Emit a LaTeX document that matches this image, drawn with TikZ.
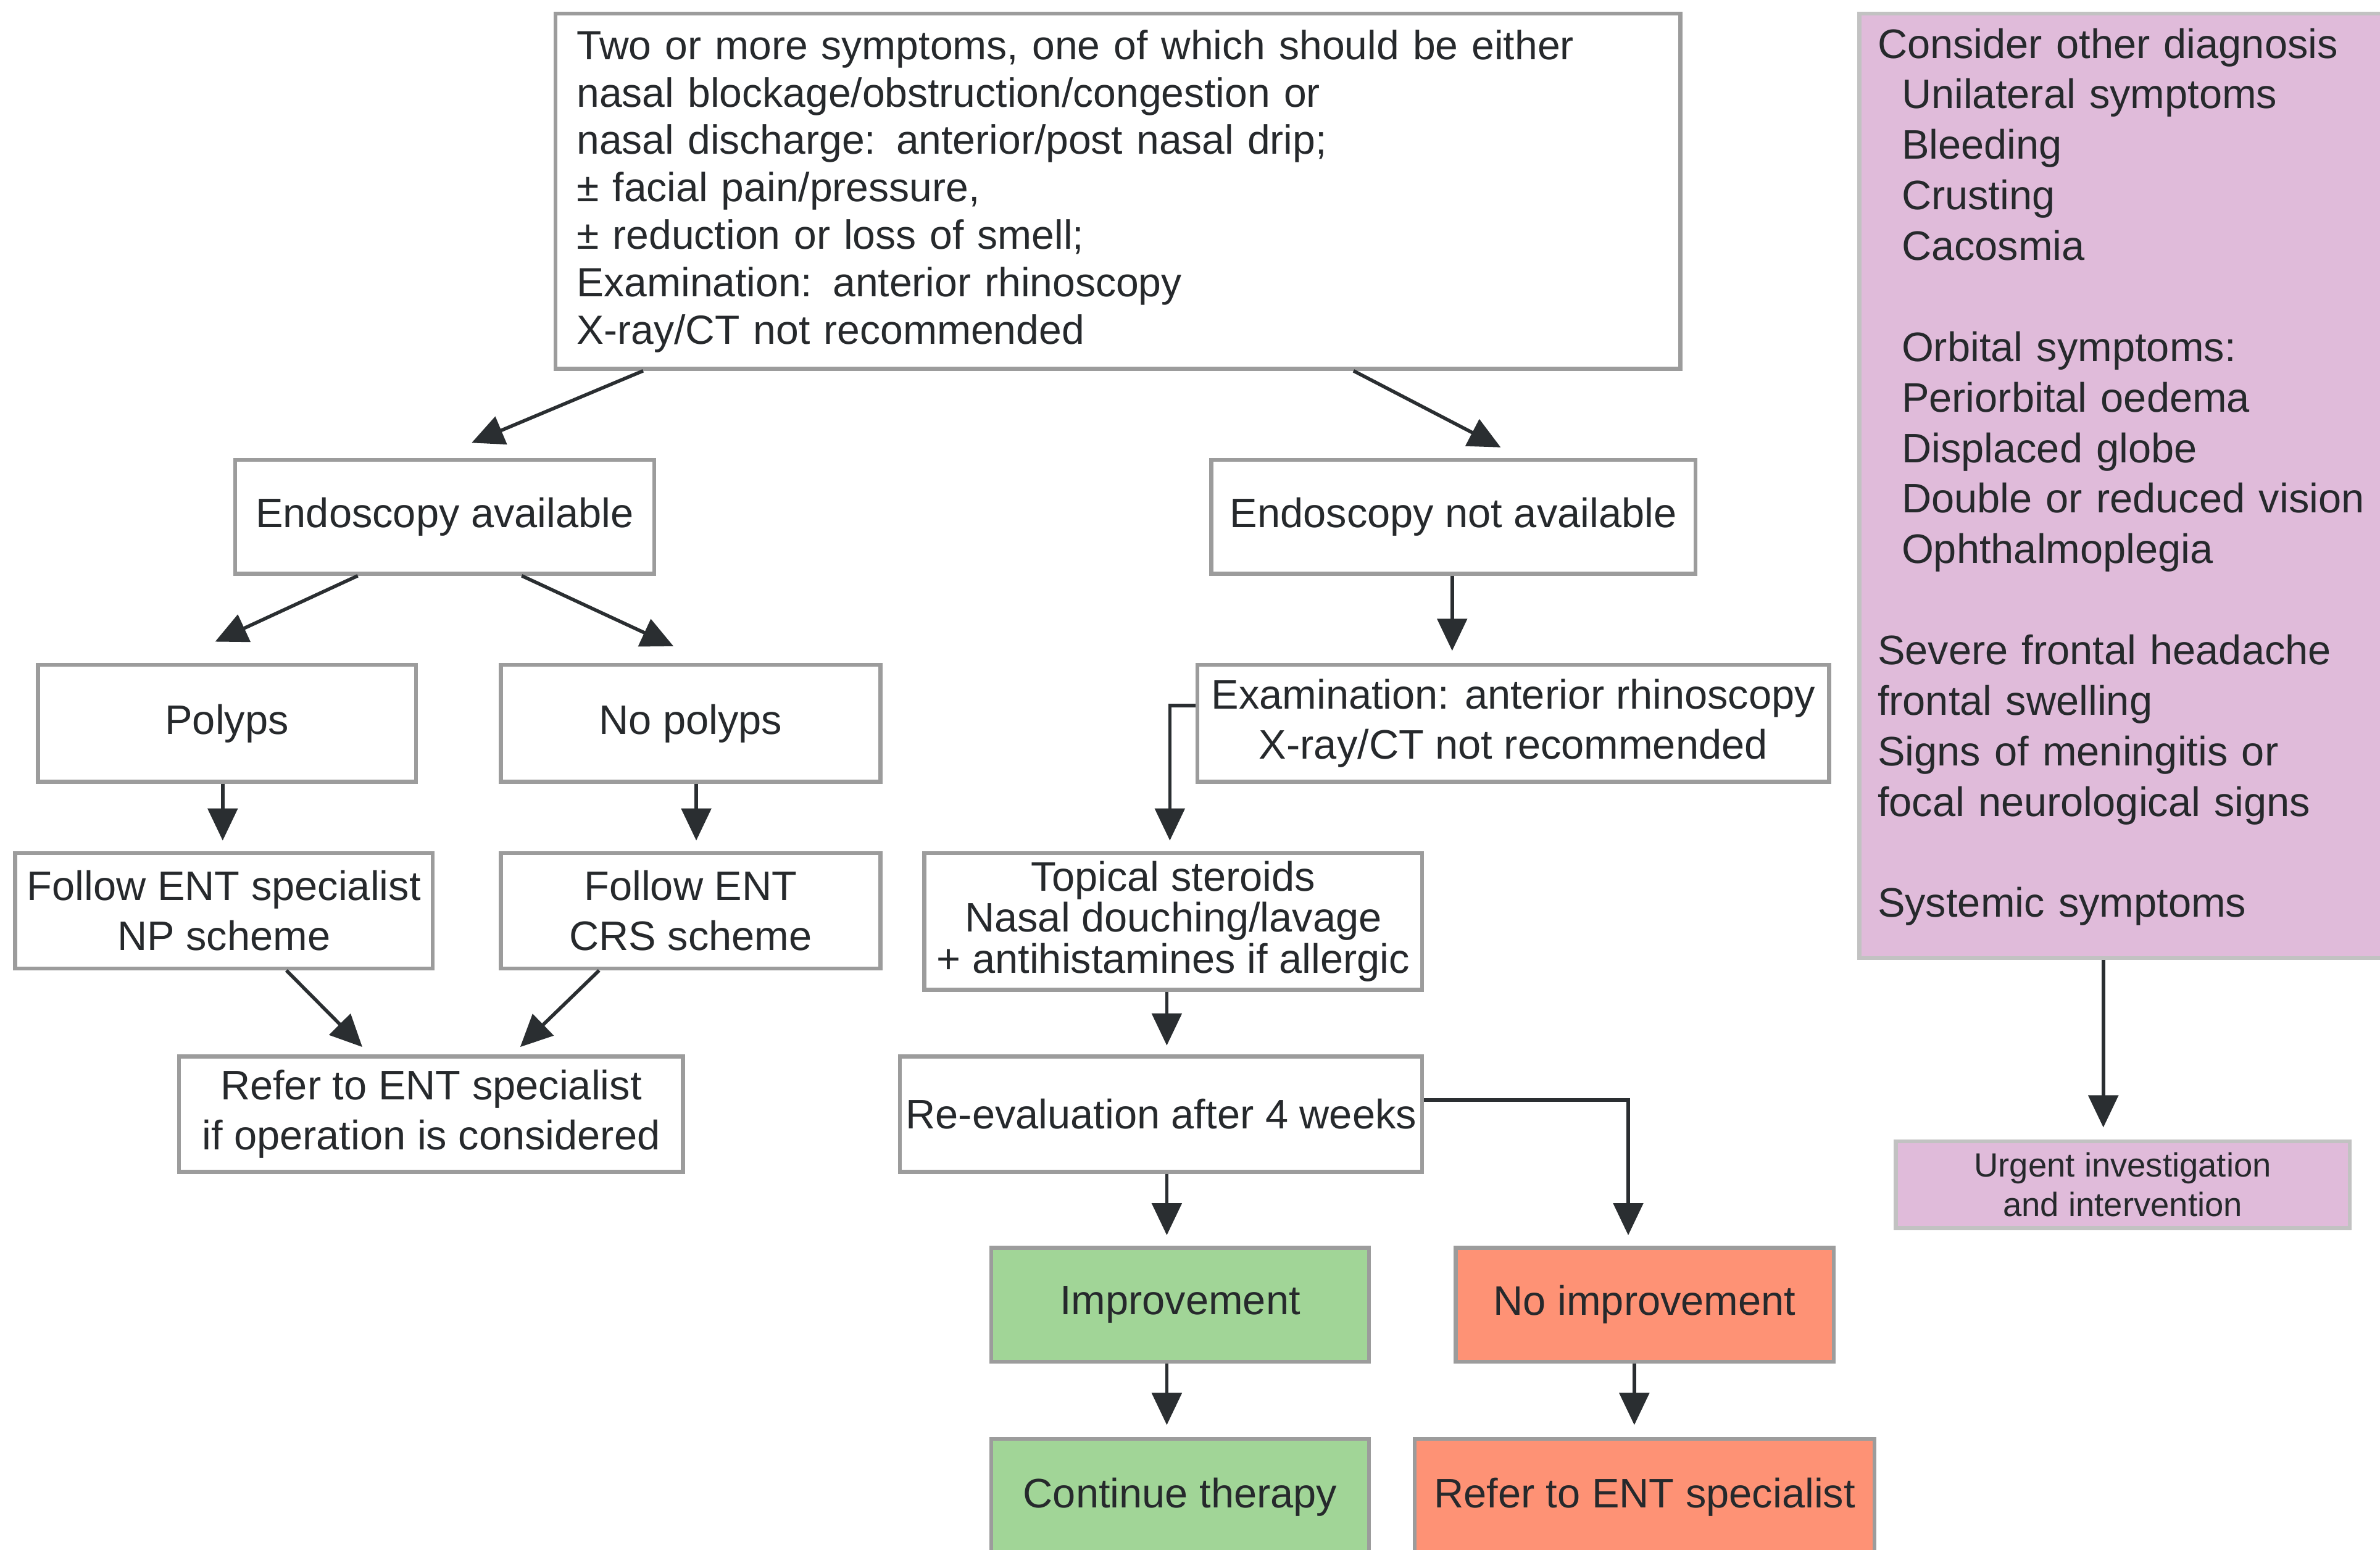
\documentclass[tikz,border=0pt]{standalone}
\usepackage{fontspec}
\setmainfont{Liberation Sans}
\usetikzlibrary{arrows.meta,calc}
\definecolor{txt}{HTML}{26292C}
\definecolor{bord}{HTML}{9C9C9C}
\definecolor{pinkbord}{HTML}{C2C2C2}
\definecolor{grn}{HTML}{A1D597}
\definecolor{org}{HTML}{FE9275}
\definecolor{pnk}{HTML}{E0BBDA}
\definecolor{arr}{HTML}{2A2E31}
\begin{document}
\begin{tikzpicture}[x=0.024592cm, y=-0.024592cm,
  place/.style n args={4}{at={({(#1+#3)/2},{(#2+#4)/2})},
    minimum width={(#3-#1)*0.024592cm}, minimum height={(#4-#2)*0.024592cm}},
  box/.style={draw=bord, line width=1.8pt, fill=white, text=txt, inner sep=0pt,
    align=center, font=\fontsize{19}{23}\selectfont},
  greenbox/.style={box, fill=grn},
  orangebox/.style={box, fill=org},
  pinkbox/.style={box, draw=pinkbord, fill=pnk},
  ar/.style={draw=arr, line width=1.6pt, -{Triangle[width=0.48cm,length=0.52cm]}}
]
\useasboundingbox (0,0) rectangle (1568,1021);

\node[box, place={366}{9}{1107}{243}, align=left, text width={(741-28)*0.024592cm},
  font=\fontsize{18.8}{21.9}\selectfont] (top) {Two or more symptoms, one of which should be either\\
nasal blockage/obstruction/congestion or\\
nasal discharge: anterior/post nasal drip;\\
± facial pain/pressure,\\
± reduction or loss of smell;\\
Examination: anterior rhinoscopy\\
X-ray/CT not recommended};

\node[box, place={155}{303}{431}{378}] (endo) {Endoscopy available};
\node[box, place={798}{303}{1117}{378}] (endna) {Endoscopy not available};
\node[box, place={25}{438}{274}{515}] (polyps) {Polyps};
\node[box, place={330}{438}{580}{515}] (nopolyps) {No polyps};
\node[box, place={10}{562}{285}{638}] (np) {Follow ENT specialist\\NP scheme};
\node[box, place={330}{562}{580}{638}] (crs) {Follow ENT\\CRS scheme};
\node[box, place={118}{696}{450}{772}] (refer) {Refer to ENT specialist\\if operation is considered};
\node[box, place={789}{438}{1205}{515}] (exam) {Examination: anterior rhinoscopy\\X-ray/CT not recommended};
\node[box, place={609}{562}{937}{652}, font=\fontsize{19}{18.8}\selectfont] (topical)
  {Topical steroids\\Nasal douching/lavage\\+ antihistamines if allergic};
\node[box, place={593}{696}{937}{772}] (reeval) {Re-evaluation after 4 weeks};
\node[greenbox, place={653}{822}{902}{897}] (impr) {Improvement};
\node[orangebox, place={959}{822}{1208}{897}] (noimpr) {No improvement};
\node[greenbox, place={653}{948}{902}{1035}] (cont) {\raisebox{0.4cm}{Continue therapy}};
\node[orangebox, place={932}{948}{1235}{1035}] (refent) {\raisebox{0.4cm}{Refer to ENT specialist}};

\node[pinkbox, place={1225}{9}{1580}{631}, align=left, text width={(355-24)*0.024592cm},
  font=\fontsize{19}{23.3}\selectfont] (pink) {Consider other diagnosis\\
\hspace*{0.39cm}Unilateral symptoms\\
\hspace*{0.39cm}Bleeding\\
\hspace*{0.39cm}Crusting\\
\hspace*{0.39cm}Cacosmia\\[23.3pt]
\hspace*{0.39cm}Orbital symptoms:\\
\hspace*{0.39cm}Periorbital oedema\\
\hspace*{0.39cm}Displaced globe\\
\hspace*{0.39cm}Double or reduced vision\\
\hspace*{0.39cm}Ophthalmoplegia\\[23.3pt]
Severe frontal headache\\
frontal swelling\\
Signs of meningitis or\\
focal neurological signs\\[23.3pt]
Systemic symptoms\rule[-12pt]{0pt}{12pt}};
\node[pinkbox, place={1249}{752}{1548}{809}, font=\fontsize{15.5}{18.2}\selectfont] (urgent)
  {Urgent investigation\\and intervention};

\draw[ar] ($(top.south west)+(59,0)$) -- ($(endo.north west)+(157,-10)$);
\draw[ar] ($(top.south west)+(527,0)$) -- ($(endna.north west)+(192,-7)$);
\draw[ar] ($(endo.south west)+(82,0)$) -- ($(polyps.north west)+(118,-14)$);
\draw[ar] ($(endo.south west)+(190,0)$) -- ($(nopolyps.north west)+(115,-11)$);
\draw[ar] ($(polyps.south west)+(123,0)$) -- ($(np.north west)+(138,-7)$);
\draw[ar] ($(nopolyps.south west)+(130,0)$) -- ($(crs.north west)+(130,-7)$);
\draw[ar] ($(np.south west)+(180,0)$) -- ($(refer.north west)+(122,-5)$);
\draw[ar] ($(crs.south west)+(66,0)$) -- ($(refer.north west)+(226,-5)$);
\draw[ar] ($(endna.south west)+(160,0)$) -- ($(exam.north west)+(169,-8)$);
\draw[ar] ($(exam.north west)+(0,28)$) -| ($(topical.north west)+(163,-7)$);
\draw[ar] ($(topical.south west)+(161,0)$) -- ($(reeval.north west)+(177,-6)$);
\draw[ar] ($(reeval.south west)+(177,0)$) -- ($(impr.north west)+(117,-7)$);
\draw[ar] ($(reeval.north east)+(0,30)$) -| ($(noimpr.north west)+(115,-7)$);
\draw[ar] ($(impr.south west)+(117,0)$) -- ($(cont.north west)+(117,-8)$);
\draw[ar] ($(noimpr.south west)+(119,0)$) -- ($(refent.north west)+(146,-8)$);
\draw[ar] ($(pink.south west)+(162,0)$) -- ($(urgent.north west)+(138,-8)$);
\end{tikzpicture}
\end{document}
